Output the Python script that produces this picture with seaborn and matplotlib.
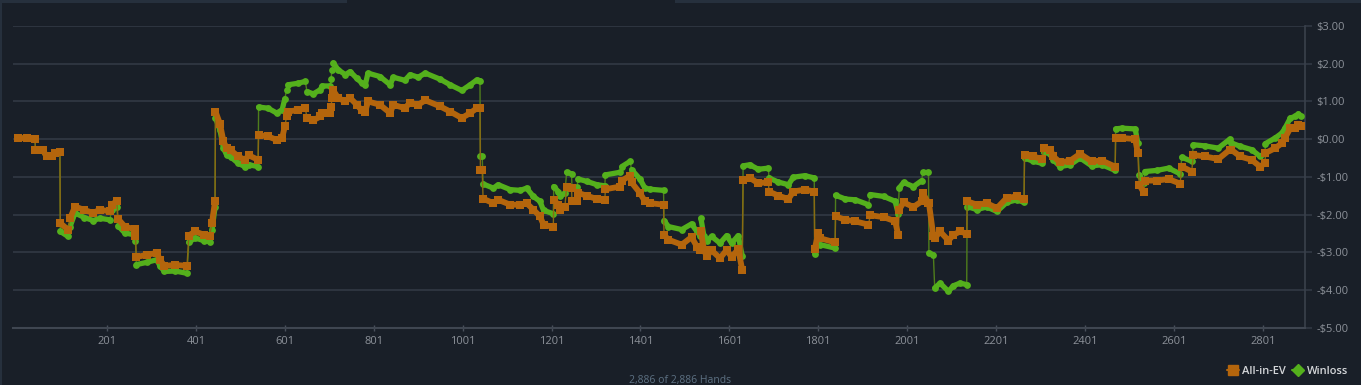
import matplotlib
matplotlib.use("Agg")
import matplotlib.pyplot as plt
import seaborn as sns
import pandas as pd
from matplotlib.lines import Line2D
from matplotlib.patches import Rectangle

# ---- data ----
hands = [1, 20, 39, 40, 56, 65, 77, 85, 95, 96, 113, 118, 129, 150, 170, 185, 207, 212, 223, 226,
         241, 263, 265, 267, 290, 313, 320, 330, 355, 381, 385, 399, 420, 432, 437, 444, 445, 455,
         463, 470, 480, 496, 511, 520, 541, 542, 563, 583, 595, 601, 605, 608, 630, 647, 651, 665,
         681, 685, 703, 705, 707, 710, 721, 737, 748, 763, 774, 782, 788, 815, 838, 845, 871, 883,
         901, 917, 950, 973, 999, 1018, 1033, 1040, 1041, 1045, 1047, 1070, 1081, 1108, 1131, 1145,
         1160, 1175, 1183, 1205, 1206, 1216, 1220, 1231, 1235, 1246, 1247, 1258, 1261, 1280, 1303,
         1321, 1322, 1355, 1359, 1378, 1381, 1400, 1411, 1423, 1453, 1454, 1464, 1494, 1516, 1528,
         1535, 1537, 1544, 1550, 1561, 1580, 1595, 1606, 1621, 1630, 1632, 1647, 1666, 1689, 1690,
         1711, 1734, 1745, 1771, 1792, 1793, 1801, 1805, 1839, 1840, 1862, 1884, 1914, 1918, 1948,
         1974, 1981, 1983, 1993, 2015, 2034, 2036, 2049, 2050, 2060, 2063, 2075, 2094, 2105, 2120,
         2135, 2136, 2158, 2180, 2203, 2225, 2248, 2264, 2265, 2285, 2304, 2308, 2323, 2330, 2345,
         2368, 2390, 2416, 2439, 2469, 2470, 2484, 2514, 2520, 2523, 2533, 2536, 2563, 2589, 2615,
         2619, 2641, 2645, 2671, 2701, 2727, 2730, 2750, 2776, 2795, 2806, 2807, 2829, 2844, 2851,
         2863, 2874, 2881, 2886]

all_in_ev = [0.02, 0.03, 0.0, -0.28, -0.28, -0.46, -0.46, -0.37, -0.33, -2.23, -2.4, -2.1, -1.79,
             -1.88, -1.96, -1.87, -1.92, -1.74, -1.64, -2.12, -2.32, -2.39, -2.56, -3.13, -3.07,
             -3.02, -3.2, -3.36, -3.34, -3.36, -2.56, -2.45, -2.54, -2.58, -2.23, -1.65, 0.73, 0.41,
             -0.06, -0.24, -0.3, -0.46, -0.55, -0.43, -0.55, 0.11, 0.07, -0.02, 0.03, 0.34, 0.6,
             0.73, 0.77, 0.82, 0.56, 0.5, 0.6, 0.69, 0.69, 0.85, 1.09, 1.29, 1.09, 1.0, 1.09, 0.91,
             0.76, 0.73, 1.0, 0.91, 0.69, 0.91, 0.82, 0.97, 0.91, 1.03, 0.87, 0.73, 0.56, 0.69, 0.82,
             0.82, -0.81, -0.81, -1.58, -1.7, -1.61, -1.74, -1.74, -1.7, -1.87, -2.05, -2.27, -2.33,
             -1.61, -1.74, -1.87, -1.79, -1.26, -1.3, -1.65, -1.65, -1.43, -1.5, -1.59, -1.61, -1.33,
             -1.26, -1.1, -0.97, -1.15, -1.43, -1.65, -1.7, -1.74, -2.54, -2.67, -2.8, -2.6, -2.85,
             -2.94, -2.45, -2.94, -3.11, -2.95, -3.16, -2.94, -3.13, -2.92, -3.47, -1.08, -1.03,
             -1.17, -1.14, -1.39, -1.5, -1.59, -1.39, -1.34, -1.39, -2.92, -2.49, -2.63, -2.74,
             -2.05, -2.14, -2.18, -2.27, -2.02, -2.07, -2.18, -2.54, -1.87, -1.68, -1.8, -1.65,
             -1.43, -1.7, -1.7, -2.58, -2.63, -2.45, -2.69, -2.54, -2.45, -2.51, -1.65, -1.74, -1.7,
             -1.83, -1.56, -1.52, -1.6, -0.42, -0.46, -0.53, -0.24, -0.28, -0.46, -0.62, -0.57,
             -0.39, -0.59, -0.57, -0.73, 0.03, 0.03, 0.0, -0.37, -1.21, -1.41, -1.1, -1.1, -1.06,
             -1.18, -0.73, -0.86, -0.42, -0.46, -0.53, -0.28, -0.28, -0.46, -0.55, -0.73, -0.64,
             -0.37, -0.24, -0.11, 0.03, 0.29, 0.29, 0.38, 0.34]

winloss = [0.02, 0.03, 0.0, -0.28, -0.28, -0.46, -0.46, -0.37, -0.33, -2.45, -2.58, -2.32, -1.96,
           -2.08, -2.16, -2.1, -2.14, -1.87, -1.8, -2.3, -2.49, -2.54, -2.71, -3.33, -3.27, -3.2,
           -3.36, -3.51, -3.5, -3.56, -2.74, -2.62, -2.7, -2.72, -2.42, -1.81, 0.56, 0.25, -0.24,
           -0.42, -0.48, -0.64, -0.73, -0.68, -0.73, 0.85, 0.82, 0.69, 0.78, 1.07, 1.31, 1.44, 1.48,
           1.53, 1.26, 1.2, 1.31, 1.41, 1.41, 1.59, 1.84, 2.02, 1.84, 1.71, 1.79, 1.61, 1.49, 1.44,
           1.75, 1.66, 1.44, 1.64, 1.56, 1.71, 1.64, 1.75, 1.59, 1.44, 1.29, 1.44, 1.57, 1.55,
           -0.44, -0.44, -1.19, -1.3, -1.21, -1.34, -1.36, -1.3, -1.52, -1.65, -1.89, -1.98, -1.26,
           -1.39, -1.52, -1.43, -0.88, -0.92, -1.3, -1.28, -1.06, -1.12, -1.21, -1.24, -0.95, -0.88,
           -0.73, -0.59, -0.81, -1.06, -1.3, -1.33, -1.36, -2.16, -2.32, -2.4, -2.25, -2.45, -2.56,
           -2.1, -2.58, -2.71, -2.58, -2.76, -2.56, -2.76, -2.56, -3.11, -0.71, -0.68, -0.8, -0.77,
           -1.03, -1.14, -1.21, -1.01, -0.97, -1.03, -3.04, -2.63, -2.8, -2.89, -1.49, -1.59, -1.61,
           -1.74, -1.47, -1.52, -1.65, -1.98, -1.3, -1.15, -1.26, -1.1, -0.88, -0.88, -3.02, -3.07,
           -3.95, -3.82, -4.04, -3.89, -3.82, -3.86, -1.79, -1.87, -1.8, -1.92, -1.68, -1.61, -1.68,
           -0.5, -0.59, -0.64, -0.35, -0.39, -0.55, -0.73, -0.68, -0.5, -0.71, -0.68, -0.83, 0.27,
           0.29, 0.27, -0.11, -0.95, -1.17, -0.86, -0.83, -0.77, -0.92, -0.48, -0.59, -0.15, -0.18,
           -0.24, 0.0, -0.1, -0.19, -0.28, -0.46, -0.37, -0.12, 0.03, 0.16, 0.29, 0.56, 0.6, 0.67,
           0.6]

x_ticks = [201, 401, 601, 801, 1001, 1201, 1401, 1601, 1801, 2001, 2201, 2401, 2601, 2801]
y_ticks = [-5, -4, -3, -2, -1, 0, 1, 2, 3]
y_tick_labels = ["-$5.00", "-$4.00", "-$3.00", "-$2.00", "-$1.00", "$0.00", "$1.00", "$2.00", "$3.00"]
series_names = ["All-in-EV", "Winloss"]
footer_text = "2,886 of 2,886 Hands"

# ---- styling ----
BG = "#191f28"
GRID = "#323944"
TXT = "#8c9199"
ORANGE = "#b4650c"
GREEN = "#54b01c"
ORANGE_LINE = "#8a6a12"
GREEN_LINE = "#4f7d1c"

sns.set_theme(style="dark")
plt.rcParams["font.family"] = ["Open Sans", "DejaVu Sans"]


def series_frame(values, name):
    """Long-form frame; 'run' groups consecutive samples between sudden jumps."""
    runs = []
    run = 0
    for i in range(len(hands)):
        if i > 0:
            dh = hands[i] - hands[i - 1]
            dv = abs(values[i] - values[i - 1])
            if dh <= 5 and dv > 0.12:
                run += 1
        runs.append(run)
    return pd.DataFrame({"hand": hands, "value": values, "series": name, "run": runs})


df_ev = series_frame(all_in_ev, series_names[0])
df_wl = series_frame(winloss, series_names[1])

fig = plt.figure(figsize=(13.61, 3.85), dpi=100, facecolor=BG)
W, H = 1361, 385
ax = fig.add_axes([13 / W, 1 - 327.6 / H, (1305 - 13) / W, (327.6 - 26) / H])
ax.set_facecolor(BG)

# top tab strips
fig.patches.append(Rectangle((0, 1 - 2.5 / H), 347 / W, 2.5 / H, transform=fig.transFigure,
                             facecolor="#26303d", edgecolor="none", zorder=0))
fig.patches.append(Rectangle((675 / W, 1 - 2.5 / H), (W - 675) / W, 2.5 / H, transform=fig.transFigure,
                             facecolor="#26303d", edgecolor="none", zorder=0))
fig.patches.append(Rectangle((0, 0), 1.5 / W, 1, transform=fig.transFigure,
                             facecolor="#26303d", edgecolor="none", zorder=0))

# Winloss first, All-in-EV on top
for d, c_line, c_mark, mk, sz, band, z in [
    (df_wl, GREEN_LINE, GREEN, "o", 24, 3.8, 3),
    (df_ev, ORANGE_LINE, ORANGE, "s", 26, 4.2, 6),
]:
    sns.lineplot(data=d, x="hand", y="value", color=c_line, linewidth=1.0, sort=False,
                 estimator=None, ax=ax, legend=False, zorder=z)
    sns.lineplot(data=d, x="hand", y="value", units="run", color=c_mark, linewidth=band, sort=False,
                 estimator=None, ax=ax, legend=False, zorder=z + 1,
                 solid_capstyle="round", solid_joinstyle="round")
    sns.scatterplot(data=d, x="hand", y="value", color=c_mark, marker=mk, s=sz, linewidth=0,
                    ax=ax, legend=False, zorder=z + 2)

ax.set_xlim(-10.5, 2896)
ax.set_ylim(-5, 3)
ax.set_xticks(x_ticks)
ax.set_xticklabels([str(t) for t in x_ticks])
ax.set_yticks(y_ticks)
ax.set_yticklabels(y_tick_labels)
ax.yaxis.tick_right()
ax.set_xlabel("")
ax.set_ylabel("")

ax.grid(axis="y", color=GRID, linewidth=1.2)
ax.grid(axis="x", visible=False)
for s in ["top", "left"]:
    ax.spines[s].set_visible(False)
ax.spines["right"].set_visible(True)
ax.spines["right"].set_color("#3a414c")
ax.spines["right"].set_linewidth(1.2)
ax.spines["bottom"].set_visible(True)
ax.spines["bottom"].set_color("#3f4651")
ax.spines["bottom"].set_linewidth(1.5)

ax.tick_params(axis="x", colors="#4a515c", labelcolor=TXT, labelsize=8, length=4,
               width=1, direction="inout", pad=4, bottom=True)
ax.tick_params(axis="y", colors=GRID, labelcolor=TXT, labelsize=8, length=5,
               width=1.2, pad=3, right=True, left=False)

handles = [
    Line2D([0], [0], color=ORANGE, marker="s", markersize=7, linewidth=1.5),
    Line2D([0], [0], color=GREEN, marker="D", markersize=6.5, linewidth=1.5),
]
leg = fig.legend(handles, series_names, loc="center right", bbox_to_anchor=(1358 / W, 1 - 371 / H),
                 frameon=False, ncol=2, handlelength=1.0, handletextpad=0.3, columnspacing=0.6,
                 prop={"size": 8, "weight": "semibold"})
for t in leg.get_texts():
    t.set_color("#d4d6d9")

fig.text(680 / W, 1 - 380.5 / H, footer_text, ha="center", va="center", color="#5d7183", fontsize=7.5)

fig.savefig("out.png", dpi=100, facecolor=BG)
